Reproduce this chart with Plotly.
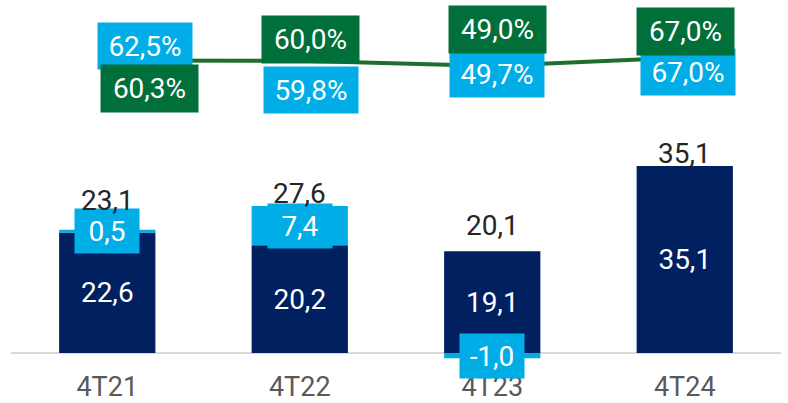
import plotly.graph_objects as go

categories = ["4T21", "4T22", "4T23", "4T24"]
base_values = [22.6, 20.2, 19.1, 35.1]
extra_values = [0.5, 7.4, -1.0, 0.0]
totals = [23.1, 27.6, 20.1, 35.1]
green_pct = [60.3, 60.0, 49.0, 67.0]
blue_pct = [62.5, 59.8, 49.7, 67.0]

NAVY = "#002060"
LBLUE = "#00ADE6"
GREEN_BOX = "#006F3A"
GREEN_LINE = "#1F6E2B"
FONT = "Roboto"
FS = 28

def fmt(v, pct=False):
    s = f"{v:.1f}".replace(".", ",")
    return s + ("%" if pct else "")

fig = go.Figure()
fig.add_trace(go.Bar(
    x=categories, y=base_values, marker_color=NAVY, marker_line_width=0,
    text=[fmt(v) for v in base_values], textposition="inside",
    insidetextanchor="middle", textangle=0,
    textfont=dict(family=FONT, size=FS, color="white"),
))
fig.add_trace(go.Bar(
    x=categories, y=extra_values, marker_color=LBLUE, marker_line_width=0,
))
fig.add_trace(go.Scatter(
    x=categories, y=blue_pct, yaxis="y2", mode="lines",
    line=dict(color=GREEN_LINE, width=2),
))
fig.add_trace(go.Scatter(
    x=categories, y=green_pct, yaxis="y2", mode="lines",
    line=dict(color=GREEN_LINE, width=4),
))

annotations = []
# light blue segment labels
for c, b, e in zip(categories, base_values, extra_values):
    if e == 0:
        continue
    yv = b + e / 2 if e > 0 else e / 2
    annotations.append(dict(
        x=c, y=yv, xref="x", yref="y", text=fmt(e), showarrow=False,
        bgcolor=LBLUE, width=62, height=42,
        font=dict(family=FONT, size=FS, color="white"),
    ))
# total labels
total_shift = [29, 12, 20, 12]
for c, t, s in zip(categories, totals, total_shift):
    annotations.append(dict(
        x=c, y=t, xref="x", yref="y", text=fmt(t), showarrow=False,
        yshift=s, font=dict(family=FONT, size=FS, color="#262626"),
    ))
# percentage boxes
green_off = [(42, -28), (11, 21), (5, 36), (1, 26)]
blue_off = [(38, 14), (11, -29), (5, -8), (3, -15)]
for c, v, (dx, dy) in zip(categories, blue_pct, blue_off):
    annotations.append(dict(
        x=c, y=v, xref="x", yref="y2", text=fmt(v, True), showarrow=False,
        xshift=dx, yshift=dy, bgcolor=LBLUE, width=92, height=44,
        font=dict(family=FONT, size=FS, color="white"),
    ))
for c, v, (dx, dy) in zip(categories, green_pct, green_off):
    annotations.append(dict(
        x=c, y=v, xref="x", yref="y2", text=fmt(v, True), showarrow=False,
        xshift=dx, yshift=dy, bgcolor=GREEN_BOX, width=95, height=45,
        font=dict(family=FONT, size=FS, color="white"),
    ))

fig.update_layout(
    width=788, height=403,
    margin=dict(l=11, r=7, t=10, b=40, autoexpand=False),
    barmode="relative", bargap=0.5,
    plot_bgcolor="white", paper_bgcolor="white",
    showlegend=False, hovermode=False,
    annotations=annotations,
    xaxis=dict(showgrid=False, showline=False, ticks="", automargin=False,
               range=[-0.5, 3.5],
               tickfont=dict(family=FONT, size=27, color="#595959"),
               ticklabelstandoff=5),
    yaxis=dict(range=[-1.876, 64.35], showgrid=False, showticklabels=False,
               automargin=False,
               zeroline=True, zerolinecolor="#D9D9D9", zerolinewidth=2),
    yaxis2=dict(range=[-583, 168], overlaying="y", side="right",
                automargin=False,
                showgrid=False, showticklabels=False, zeroline=False),
)

fig.write_html("out.html", config={"displayModeBar": False},
               post_script="document.body.style.margin='0';document.body.style.overflow='hidden';")
